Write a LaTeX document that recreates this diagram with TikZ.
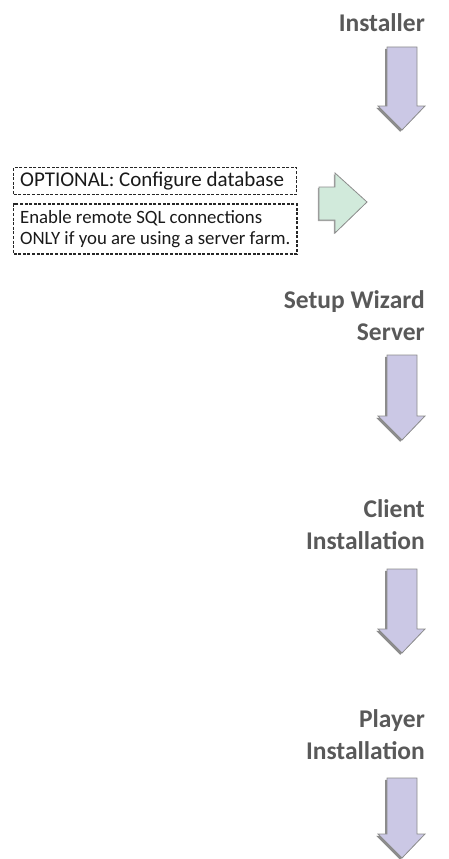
\documentclass[tikz,border=0pt]{standalone}
\usepackage{fontspec}
\setmainfont{Carlito}
\usetikzlibrary{positioning}

\definecolor{headgray}{HTML}{595959}
\definecolor{lilac}{HTML}{CBC8E5}
\definecolor{mint}{HTML}{D1EADB}
\definecolor{edgegray}{HTML}{8C8C8C}

\tikzset{
	heading/.style = {font=\bfseries\fontsize{25.5}{32}\selectfont, text=headgray,
		align=right, inner sep=0pt, anchor=base east},
	notebox/.style = {draw=black!85, line width=1.3pt, dash pattern=on 3pt off 1.6pt,
		text=black!90, align=left, inner xsep=6.5pt, inner ysep=0pt, anchor=north west}
}
\newcommand{\noteline}[1]{\makebox[270pt][l]{#1}}

% block arrow pointing down: #1 = top of shaft, #2 = tip
\newcommand{\flowdown}[2]{
	\begin{scope}[shift = {(-1.8,1.8)}]
		\fill[black!45] (387,#1) -- (417,#1) -- (417,#2-24) -- (425,#2-24) -- (402,#2)
			-- (378,#2-24) -- (387,#2-24) -- cycle;
	\end{scope}
	\draw[edgegray, line width=.8pt, fill=lilac] (387,#1) -- (417,#1) -- (417,#2-24)
		-- (425,#2-24) -- (402,#2) -- (378,#2-24) -- (387,#2-24) -- cycle;
}

\begin{document}
\begin{tikzpicture}[x=1pt, y=-1pt]
	\useasboundingbox (0,0) rectangle (449,859);

	% steps
	\node[heading] (installer) at (425,32) {Installer};
	\flowdown{47}{130}

	\node[notebox, minimum height=27pt, font=\fontsize{21}{21}\selectfont]
		(optional) at (13,167) {\noteline{OPTIONAL: Configure database}};
	\node[notebox, minimum height=50pt, font=\fontsize{18.8}{21}\selectfont,
		below=8pt of optional.south west, anchor=north west]
		(remotesql) {\noteline{Enable remote SQL connections}\\ONLY if you are using a server farm.};
	\begin{scope}[shift = {(-1.2,1.2)}]
		\fill[black!35] (319,187) -- (335,187) -- (335,173) -- (367,202) -- (335,233)
			-- (335,220) -- (319,220) -- cycle;
	\end{scope}
	\draw[edgegray, line width=.8pt, fill=mint] (319,187) -- (335,187) -- (335,173)
		-- (367,202) -- (335,233) -- (335,220) -- (319,220) -- cycle;

	\node[heading] (wizard) at (425,340) {Setup Wizard\\Server};
	\flowdown{355}{440}

	\node[heading] (client) at (425,549) {Client\\Installation};
	\flowdown{569}{653}

	\node[heading] (player) at (425,759) {Player\\Installation};
	\flowdown{778}{858}
\end{tikzpicture}
\end{document}
